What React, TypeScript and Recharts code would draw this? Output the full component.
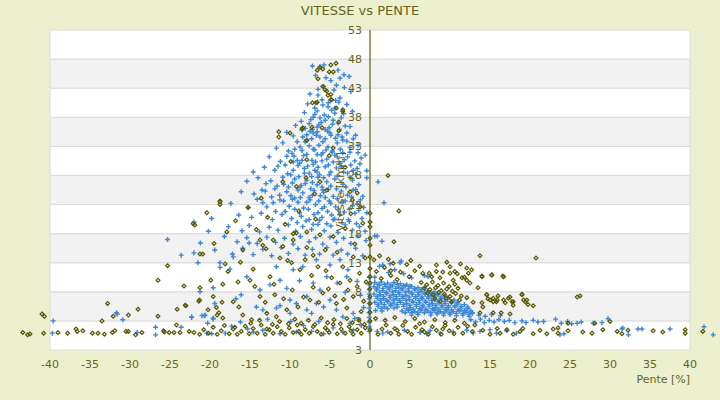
import {
  ReferenceArea,
  ReferenceDot,
  ReferenceLine,
  Scatter,
  ScatterChart,
  XAxis,
  YAxis,
} from "recharts";

// ── Axis ticks ───────────────────────────────────────────────────────────────
const xTicks = [-40, -35, -30, -25, -20, -15, -10, -5, 0, 5, 10, 15, 20, 25, 30, 35, 40];
const yTicks = [-2, 3, 8, 13, 18, 23, 28, 33, 38, 43, 48, 53];
const yTickLabels = ["3", "3", "8", "13", "18", "23", "28", "33", "38", "43", "48", "53"];

// ── Blue series (crosses) ────────────────────────────────────────────────────
const bluePeak: [number, number][] = [
  [-7.2, 46.8], [-5.75, 47], [-6.25, 46.7], [-4, 46.1],
  [-4.9, 44.3], [-3.25, 45.3], [-2.6, 45], [-3.75, 44.7], [-6.8, 45.2], [-5.5, 44.8],
  [-4.2, 43.5], [-4.5, 42.7], [-7.5, 42], [-6.5, 42.8], [-5.8, 43.3], [-3.2, 43.1], [-2.4, 42.4],
  [-3.75, 41.3], [-6.5, 41.8], [-6, 41], [-5.2, 40.5], [-7.8, 40.3], [-4.3, 40.9], [-2.9, 40.2],
  [-5.25, 39.8], [-4.4, 39.6], [-7.1, 38], [-6.6, 39.1], [-3.3, 38.6], [-8.2, 38.8], [-5.7, 38.4], [-2.2, 39],
  [-6.25, 37.9], [-5.6, 37.5], [-4.6, 37.5], [-4, 37], [-6.6, 36.3], [-7.6, 36.9], [-8.6, 37.3], [-3.1, 36.5], [-5.1, 36.2], [-9.3, 36.6],
  [-8.5, 35.8], [-6.6, 35.5], [-5, 35.3], [-3.5, 34.6], [-7.9, 35], [-7.5, 35.6], [-7.1, 35.3], [-6.25, 34.6], [-2.9, 35.3], [-4.3, 34.4], [-9.6, 34.8], [-10.4, 35.4], [-5.6, 35.9], [-1.8, 34.9],
  [-7.9, 34.1], [-5.9, 33.8], [-4.1, 33.6], [-11.7, 32.7], [-10.9, 33.6], [-9.4, 32.5], [-8.75, 32.9], [-8.1, 33.8], [-5.25, 32.9], [-3.4, 34.1], [-6.9, 32.4], [-2.5, 32.8], [-4.7, 32.2], [-1.5, 33.2], [-6.4, 33.2], [-3.7, 32.5], [-7.6, 33.1], [-10.2, 32.2],
  [-2.5, 32], [-1.1, 31], [-4.75, 32], [-4.1, 31.2], [-9.75, 31.8], [-9.1, 30.6], [-7.25, 30.6], [-12.6, 31.2], [-11.2, 30.4], [-8.3, 31.4], [-6.1, 31.5], [-5.4, 30.8], [-3.2, 30.7], [-6.8, 30.3], [-10.4, 31.3], [-1.9, 30.5], [-8.8, 30.1], [-5.9, 31.9], [-0.6, 31.5],
  [-1.25, 30], [-2.1, 28.9], [-3.75, 30.1], [-11.9, 28.9], [-11.5, 29.6], [-9.6, 28.9], [-6.9, 28.9], [-13.2, 29.4], [-8.2, 29.2], [-7.6, 28.4], [-5.6, 29.5], [-4.9, 28.6], [-4.2, 29.3], [-2.8, 28.4], [-10.3, 28.3], [-6.3, 28.1], [-9, 29.7], [-14.6, 28.6], [-0.4, 28.8],
  [-14, 27.6], [-0.4, 27.6], [-6.5, 27.7], [-7.9, 27.2], [-12.4, 27.1], [-10.8, 26.5], [-9.4, 27.4], [-8.6, 26.3], [-5.4, 26.9], [-4.4, 27.4], [-3.4, 26.5], [-2.2, 27.2], [-1.4, 26.4], [-6, 26], [-8.75, 26], [-11.6, 26.2], [-13, 26.6], [-7.2, 26.8], [-15.4, 27],
  [-16.1, 25.2], [-13.5, 25.5], [-13.1, 25.3], [-8.4, 25], [-10.4, 25.2], [-9.4, 24.1], [-11.3, 24.6], [-7, 25.4], [-6.2, 24.5], [-5.2, 25.6], [-4.6, 24.4], [-3.6, 25.3], [-2.8, 24.6], [-1.8, 25.6], [-0.9, 24.4], [-12.3, 24.3], [-14.5, 24.8], [-7.6, 24.2], [-5.8, 25.1],
  [-7.5, 23.8], [-11.25, 23.8], [-12.1, 23.3], [-12.9, 22.6], [-13.4, 23.3], [-10.1, 22.7], [-9, 23.4], [-8.3, 22.4], [-6.8, 23], [-6, 22.3], [-5.1, 23.6], [-4.3, 22.6], [-3.5, 23.4], [-2.6, 22.2], [-1.6, 23.1], [-0.8, 22.5], [-15.2, 22.5], [-17.4, 23.2], [-14.1, 23.9], [-9.7, 23.9],
  [-22, 20], [-19.8, 20.6], [-16.4, 21.2], [-14.8, 20.8], [-13.6, 21.5], [-12.2, 20.4], [-11, 21.3], [-9.8, 20.6], [-8.8, 21.6], [-7.6, 20.4], [-7, 21.3], [-6, 20.8], [-5.3, 21.8], [-4.4, 20.5], [-3.8, 21.3], [-2.7, 20.4], [-1.9, 21.5], [-1, 20.6], [-0.4, 21.6], [-11.8, 21.8],
  [-20.2, 18.4], [-17.7, 19.2], [-16, 18.5], [-15.1, 19.4], [-13.8, 18.3], [-12.6, 19.1], [-11.5, 18.6], [-10.2, 19.5], [-9.3, 18.4], [-8.4, 19.2], [-7.3, 18.7], [-6.5, 19.6], [-5.7, 18.5], [-4.9, 19.3], [-4, 18.2], [-3.1, 19.5], [-2.2, 18.6], [-1.3, 19.2], [-0.6, 18.4],
  [-25.3, 17], [-21.2, 16.4], [-18.2, 17.5], [-16.6, 16.6], [-15.4, 17.3], [-14.1, 16.3], [-12.9, 17.4], [-11.8, 16.5], [-10.7, 17.2], [-9.6, 16.2], [-8.7, 17.5], [-7.6, 16.6], [-6.8, 17.3], [-5.9, 16.2], [-5, 17.4], [-4.2, 16.5], [-3.3, 17.2], [-2.4, 16.3], [-1.5, 17.6], [-0.5, 16.8],
  [-23.6, 14.3], [-19.4, 15.2], [-17.2, 14.5], [-15.9, 15.5], [-14.6, 14.4], [-13.4, 15.3], [-12.3, 14.2], [-11.1, 15.6], [-10.2, 14.6], [-9, 15.4], [-8.1, 14.3], [-7.2, 15.3], [-6.3, 14.5], [-5.4, 15.6], [-4.6, 14.3], [-3.6, 15.2], [-2.8, 14.5], [-1.8, 15.5], [-0.9, 14.2],
];

// denser core of the peak, where the crosses overlap most
const blueCore: [number, number][] = [
  [-6.9, 39.6], [-5.9, 40.1], [-4.8, 39.2], [-3.9, 40.6],
  [-7.4, 37.6], [-6.9, 38.5], [-5.2, 38.1], [-4.4, 38.7], [-3.6, 37.9], [-6.1, 37.1],
  [-8.1, 36.1], [-7.2, 35.9], [-6.4, 36.7], [-5.3, 35.6], [-4.7, 36.8], [-3.8, 35.9], [-2.5, 36.4],
  [-9.1, 33.8], [-8.4, 34.6], [-7.3, 34.3], [-6.7, 34.9], [-5.6, 34.3], [-4.9, 34.9], [-4.0, 35], [-2.9, 33.9], [-2.1, 34.3],
  [-9.5, 31.3], [-8.5, 32.3], [-7.9, 31.6], [-7.1, 32.5], [-6.6, 31.6], [-5.5, 32.4], [-4.4, 31.5], [-3.4, 31.9], [-2.8, 31.2], [-1.5, 31.9],
  [-10.6, 29.8], [-9.6, 30.3], [-8.5, 30.6], [-7.8, 29.6], [-7.1, 29.9], [-6.5, 29.4], [-6, 30.5], [-5.2, 29.8], [-4.6, 30.3], [-3.6, 29.5], [-2.4, 29.8], [-1.6, 29.2],
  [-10.9, 27.7], [-9.9, 28.1], [-8.9, 27.8], [-8.2, 28.4], [-7.3, 27.8], [-6.6, 28.6], [-5.8, 27.6], [-5.1, 28.1], [-4.1, 27.9], [-3.3, 28.6], [-2.5, 27.7], [-1.8, 28.2],
  [-11.9, 25.7], [-10.2, 26], [-9.7, 26.7], [-9.0, 25.5], [-8.1, 26.6], [-7.4, 25.7], [-6.6, 26.4], [-5.9, 25.5], [-4.9, 26.2], [-4.2, 25.7], [-3, 26], [-2.1, 25.5],
  [-10.8, 23.6], [-9.9, 24.5], [-8.7, 24.2], [-7.9, 23.4], [-7.2, 24.6], [-6.4, 23.6], [-5.6, 24.2], [-4.9, 23.2], [-4.1, 24], [-3.1, 23.6], [-2.3, 24.3], [-1.2, 23.8],
  [-10.6, 21.8], [-9.4, 22.2], [-8.6, 21], [-7.7, 22.2], [-6.5, 21.6], [-5.7, 22.6], [-4.8, 21.2], [-4, 22.1], [-3.2, 21.7], [-2.2, 22.8], [-1.4, 22],
  [-9.1, 19.9], [-8, 20.2], [-7.1, 19.6], [-6.3, 20.3], [-5.4, 19.7], [-4.6, 20.4], [-3.5, 19.9], [-2.6, 20.1], [-1.7, 19.7],
];

const blueLowLeft: [number, number][] = [
  [-22, 14.7], [-21.5, 13], [-18.75, 13], [-18.75, 12.2], [-17.1, 14], [-15.1, 16.4], [-17.5, 11.9],
  [-21.25, 8], [-19.6, 8.7], [-16.1, 7.5], [-16.75, 6.8], [-22.3, 3.7], [-20.6, 4], [-19.6, 3.5], [-17.3, 2.1],
  [-14.2, 5.4], [-13.4, 4.9], [-11.7, 5.2], [-11.25, 5.6], [-10, 6.6], [-9.2, 6], [-10, 4.3], [-7.9, 4.9], [-7.3, 4.3],
  [-6.7, 6], [-5.8, 5.4], [-5, 6.6], [-4.2, 4.9], [-3.4, 3.7], [-2.5, 2.6], [-2.1, 4.3], [-7.1, 9.5], [-6.25, 8.3],
  [-7.9, 7.2], [-5.4, 10.6], [-4.1, 9.5], [-2.9, 10.6], [-11.25, 10], [-12.5, 9.2], [-10.4, 8.6], [-13.75, 8.3],
  [-15.4, 10.6], [-11.7, 12.3], [-9.6, 11.8], [-8.4, 12.3], [-6.7, 13.5], [-5, 12.6], [-3.75, 13.5], [-2.75, 11.8],
  [-1.6, 9.8], [-1.2, 7.4], [-0.8, 5.3], [-1.9, 3.4], [-3.1, 7.9], [-8.8, 9.9], [-9.9, 2.9], [-12.8, 3.3],
  [-9.2, 1.1], [-7.3, 1.2], [-5.8, 0.8], [-4.6, 1.8], [-3.4, 1.1], [-2.1, 1.4], [-11.25, 0.8], [-13.4, 1.4], [-14.6, 1.1],
  [-39.6, 3], [-39.7, 0.9], [-31.7, 4.4], [-31.6, 4.2], [-30.9, 3.2], [-29.1, 1], [-26.8, 1.9], [-26.8, 0.6],
  [-23.6, 1.9], [-22.3, 3.6], [-21, 3.9], [-20.7, 3.9], [-20.3, 2.6], [-19.6, 3.3], [-19.4, 6], [-20.4, 0.9],
  [-19.8, 0.8], [-18.1, 0.9], [-16.2, 2.8], [-15.3, 1.6], [-8.3, 2.2], [-6.4, 2.9], [-1.1, 2.2],
];

const blueAxis: [number, number][] = [
  [-0.1, 1.2], [-0.1, 2], [-0.1, 2.8], [-0.1, 3.6], [-0.1, 4.4], [-0.1, 5.2],
  [-0.1, 6], [-0.1, 6.8], [-0.1, 7.6], [-0.1, 8.4], [-0.1, 9.2], [-0.1, 10.5],
];

const blueRightBlob: [number, number][] = [
  [0.6, 9.6], [1.4, 9.7], [2.2, 9.5], [3.0, 9.6], [3.8, 9.4], [4.6, 9.2],
  [0.5, 8.9], [1.2, 9.1], [2.0, 8.9], [2.8, 9.0], [3.6, 8.8], [4.4, 9.0], [5.2, 8.9], [6.0, 8.7], [6.8, 8.8],
  [0.8, 8.3], [1.6, 8.2], [2.4, 8.4], [3.2, 8.2], [4.0, 8.3], [4.8, 8.1], [5.6, 8.3], [6.4, 8.1], [7.2, 8.2], [8.0, 8.0],
  [0.5, 7.6], [1.3, 7.5], [2.1, 7.7], [2.9, 7.5], [3.7, 7.6], [4.5, 7.4], [5.3, 7.6], [6.1, 7.5], [6.9, 7.6], [7.7, 7.4], [8.5, 7.5], [9.3, 7.3],
  [0.9, 6.9], [1.7, 6.8], [2.5, 7.0], [3.3, 6.8], [4.1, 6.9], [4.9, 6.7], [5.7, 6.9], [6.5, 6.8], [7.3, 6.9], [8.1, 6.7], [8.9, 6.8], [9.7, 6.7], [10.5, 6.6],
  [0.6, 6.2], [1.4, 6.1], [2.2, 6.3], [3.0, 6.1], [3.8, 6.2], [4.6, 6.0], [5.4, 6.2], [6.2, 6.1], [7.0, 6.2], [7.8, 6.0], [8.6, 6.1], [9.4, 6.0], [10.2, 6.1], [11.0, 5.9], [11.8, 5.8],
  [1.0, 5.5], [1.8, 5.4], [2.6, 5.6], [3.4, 5.4], [4.2, 5.5], [5.0, 5.3], [5.8, 5.5], [6.6, 5.4], [7.4, 5.5], [8.2, 5.3], [9.0, 5.4], [9.8, 5.3], [10.6, 5.4], [11.4, 5.2], [12.2, 5.1],
  [0.7, 4.8], [1.5, 4.7], [4.0, 4.7], [4.8, 4.8], [5.6, 4.6], [6.4, 4.8], [7.2, 4.7], [8.0, 4.8], [8.8, 4.6], [9.6, 4.7], [10.4, 4.6], [11.2, 4.7], [12.0, 4.5], [12.8, 4.4],
  [5.2, 4.0], [6.0, 4.1], [7.6, 4.0], [8.4, 4.2], [9.2, 4.0], [10.0, 4.1], [10.8, 3.9], [11.6, 4.0], [12.4, 3.8],
  // second, staggered layer that closes the gaps
  [1.0, 9.3], [1.8, 9.3], [2.6, 9.2], [3.4, 9.3], [4.2, 9.1], [5.0, 9.0],
  [0.9, 8.65], [1.6, 8.6], [2.4, 8.7], [3.2, 8.6], [4.0, 8.6], [4.8, 8.5], [5.6, 8.6], [6.4, 8.4],
  [1.2, 7.95], [2.0, 7.9], [2.8, 8.0], [3.6, 7.9], [4.4, 7.95], [5.2, 7.8], [6.0, 7.9], [6.8, 7.8], [7.6, 7.8], [8.4, 7.7],
  [0.9, 7.25], [1.7, 7.2], [2.5, 7.3], [3.3, 7.2], [4.1, 7.25], [4.9, 7.1], [5.7, 7.2], [6.5, 7.1], [7.3, 7.2], [8.1, 7.1], [8.9, 7.1], [9.7, 7.0],
  [1.3, 6.55], [2.1, 6.5], [2.9, 6.6], [3.7, 6.5], [4.5, 6.55], [5.3, 6.4], [6.1, 6.5], [6.9, 6.4], [7.7, 6.5], [8.5, 6.4], [9.3, 6.4], [10.1, 6.3], [10.9, 6.2],
  [1.0, 5.85], [1.8, 5.8], [2.6, 5.9], [3.4, 5.8], [4.2, 5.85], [5.0, 5.7], [5.8, 5.8], [6.6, 5.7], [7.4, 5.8], [8.2, 5.7], [9.0, 5.7], [9.8, 5.6], [10.6, 5.6], [11.4, 5.5], [12.2, 5.4],
  [1.4, 5.15], [2.2, 5.1], [3.0, 5.2], [4.6, 5.1], [5.4, 5.0], [6.2, 5.1], [7.0, 5.0], [7.8, 5.1], [8.6, 5.0], [9.4, 5.0], [10.2, 4.9], [11.0, 4.9], [11.8, 4.8], [12.6, 4.7],
  [4.4, 4.4], [5.2, 4.4], [6.0, 4.45], [6.8, 4.4], [7.6, 4.4], [8.4, 4.45], [9.2, 4.35], [10.0, 4.4], [10.8, 4.3], [11.6, 4.3], [12.4, 4.2],
];

const blueRightTail: [number, number][] = [
  [12.8, 4.3], [13.6, 4.0], [14.4, 3.8], [15.2, 4.1], [16.3, 3.9],
  [12.6, 3.2], [13.2, 2.8], [13.8, 3.3], [14.3, 2.7], [14.9, 3.1], [15.5, 2.8], [16.1, 3.2], [16.8, 2.9],
  [17.4, 3.1], [18.1, 2.7], [19, 3], [19.5, 2.7], [20.4, 3.1], [21, 2.8], [21.7, 2.9], [23.2, 3.3],
  [23.9, 2.6], [24.7, 2.9], [25.2, 2.5], [25.9, 2.6], [26.4, 2.8], [27.9, 2.6], [29, 2.7], [29.75, 3.4],
  [31.6, 1.8], [33.5, 1.6], [34, 1.6], [37.5, 1.6], [41.75, 2], [42.9, 0.6],
  [0.9, 1.2], [1.6, 0.9], [2.2, 1.1], [4.3, 1.4], [6.25, 1.0], [7.1, 0.8], [7.5, 1.3], [8.75, 0.9],
  [10.4, 1.1], [12.1, 1.4], [12.9, 0.9], [13.75, 1.2], [15, 1.5], [15.8, 0.9], [17.1, 1.3], [18.3, 0.9],
  [23.75, 0.6], [24.25, 0.8], [31.5, 1.6], [32.3, 0.6],
];

const blueRightScatter: [number, number][] = [
  [1, 26.9], [1.75, 23.3], [0.9, 17.6], [1.5, 16.7], [0.6, 17.6],
  [1.6, 12.6], [2.5, 12.8], [3.75, 13], [3.9, 13.3], [3.1, 11.8], [7.25, 10.6], [2.3, 11.3], [4.2, 11.1],
  [5.2, 10.4], [6.8, 10.8], [1.2, 12.4], [0.6, 10.5],
];

// ── Olive series (diamonds) ──────────────────────────────────────────────────
const olivePeak: [number, number][] = [
  [-6.6, 46.1], [-6.25, 46.6], [-5.9, 46.3], [-4.9, 47], [-4.25, 47.3], [-5.1, 45.8], [-4.6, 45.8],
  [-6.5, 44.6], [-5.6, 42.7], [-5.25, 41.8], [-4.9, 41.9], [-6.6, 40.6], [-4.9, 41], [-3.4, 39.3],
  [-3.9, 37.2], [-8.4, 36.2], [-7.25, 36.3], [-6, 36.2], [-4.6, 32.7], [-2.5, 25.2], [-1.6, 25],
  [-11.4, 35.5], [-11.4, 34.6], [-10, 35.3], [-18.75, 23.6], [-15.25, 22.5], [-8.5, 36], [-7.9, 34],
  [-6.75, 40.5], [-7.2, 40.5], [-5.9, 43.3], [-5.4, 42.5], [-4.8, 41], [-4.2, 39.6], [-3.4, 39],
  [-3.9, 35.7], [-7.9, 30.7], [-8, 27.6], [-9.2, 26.1], [-6.25, 26.9], [-5.4, 25.5], [-10.9, 26.9],
  [-3.1, 29.4], [-5.1, 31.4], [-9.9, 30.4], [-2.2, 23.8], [-13.6, 24.1], [-6.9, 24.8],
];

const oliveLeft: [number, number][] = [
  [-41, 4.2], [-40.7, 3.8], [-33.5, 3], [-32.8, 6], [-32.1, 3.8], [-30.2, 4], [-29, 5], [-26.5, 3.8],
  [-24.2, 2.3], [-24.1, 5], [-23, 5.6], [-21.3, 6.6], [-19.1, 4], [-18.9, 4.4], [-19.2, 5.3], [-18.5, 6.2],
  [-26.5, 10], [-25.3, 12.5], [-18.75, 23], [-21.9, 19.5],
  [-22.1, 19.7], [-17.9, 18.3], [-18.75, 23.5], [-19.5, 16.3], [-20.9, 14.5], [-19.9, 10], [-23.25, 9],
  [-21.25, 8.7], [-23.1, 5.7], [-21.4, 6.4], [-19.6, 7.2], [-18.4, 9.3], [-17.75, 11.5], [-16.5, 9.7],
  [-16.4, 5.4], [-17.1, 6.3], [-14.4, 8.9], [-15, 10], [-13.75, 7.2], [-12.5, 10.6], [-13.4, 16], [-13, 15.4],
  [-12.1, 16.9], [-10.9, 15.8], [-9.6, 16.9], [-9.8, 13], [-11.25, 13.8], [-8.75, 11.8], [-8.1, 13.5],
  [-7.1, 14.3], [-6.5, 12.3], [-5.6, 15.2], [-4.8, 10.4], [-3.75, 9.5], [-2.75, 8.3], [-5.9, 7.8], [-7.5, 6.6],
  [-9, 5.4], [-10.4, 4.9], [-11.7, 3.7], [-12.9, 4.3], [-14.8, 3.2], [-15.9, 4], [-18.4, 3.5], [-20.25, 4.9],
  [-4.2, 6], [-2.9, 5.2], [-2.1, 7.2], [-2.5, 10], [-3.4, 12.3], [-2.1, 14], [-4.6, 17.5], [-6.25, 17.8],
  [-7.9, 18.3], [-9.2, 18.1], [-9.6, 18], [-13.75, 16.9], [-15.9, 15.2], [-21.25, 14.5],
  [-14.9, 2.6], [-13.8, 3.1], [-12.2, 2.4], [-11.3, 2.9], [-10.2, 2.5], [-9.4, 3.3], [-8.6, 2.6], [-7.7, 3.1],
  [-6.9, 2.4], [-6.1, 3.5], [-5.3, 2.7], [-4.5, 3.2], [-3.7, 2.5], [-2.9, 3.4], [-2.2, 2.7], [-1.4, 3.1],
  [-0.7, 2.4], [-13.1, 6.2], [-11.9, 7.5], [-10.8, 6.8], [-9.7, 8.3], [-8.3, 7.1], [-7.1, 8.8], [-6.4, 6.2],
  [-5.2, 8.5], [-4.4, 7.3], [-3.3, 6.7], [-1.6, 8.9], [-0.8, 6.4], [-1.3, 11.2], [-0.6, 13.8], [-1.9, 16.2],
  [-3.1, 18.9], [-0.9, 19.8], [-2.4, 21.4], [-1.2, 22.6], [-6.8, 20.5], [-8.9, 21.9], [-10.6, 19.6],
  [-12.8, 20.8], [-14.2, 18.7], [-16.8, 20.2], [-20.4, 21.6], [-18.1, 12.8], [-16.2, 13.1], [-14.6, 11.9],
  [-12, 9.3], [-7.3, 10.8], [-5.5, 11.6], [-4.1, 14.8], [-7.9, 15.6], [-10.3, 13.4], [-1.1, 4.6], [-0.5, 9.7],
];

const oliveBottomLeft: [number, number][] = [
  [-43.4, 1], [-42.8, 0.6], [-42.5, 0.75], [-40.8, 0.9], [-39, 1], [-37.8, 0.9], [-36.75, 1.6], [-36.6, 1.2],
  [-35.9, 1.3], [-34.7, 0.9], [-34, 0.9], [-33.2, 0.7], [-32.2, 1], [-31.9, 1.3], [-30.5, 1.2], [-30.2, 1.2],
  [-29.3, 0.6], [-28.5, 1], [-25.8, 1.3], [-25.7, 1.1], [-25.1, 1], [-24.5, 1], [-23.75, 1], [-22.6, 1.2],
  [-22, 1], [-21.3, 0.7], [-20.8, 1.5], [-20.2, 0.9], [-19.6, 1.9], [-19.1, 0.7], [-18.6, 1.3], [-18.2, 2.2],
  [-17.6, 0.8], [-17.1, 1.6], [-16.6, 0.7], [-16.1, 1.2], [-15.6, 2.1], [-15.1, 0.8], [-14.6, 1.7], [-14.1, 0.9],
  [-13.6, 2.3], [-13.1, 0.7], [-12.6, 1.5], [-12.1, 0.9], [-11.6, 2], [-11.1, 1.2], [-10.6, 0.7], [-10.1, 1.8],
  [-9.6, 1], [-9.1, 2.3], [-8.6, 0.7], [-8.1, 1.5], [-7.6, 0.9], [-7.1, 2], [-6.6, 1.2], [-6.1, 0.7],
  [-5.6, 1.8], [-5.1, 1], [-4.6, 2.4], [-4.1, 0.8], [-3.6, 1.6], [-3.1, 0.9], [-2.6, 2], [-2.1, 0.7],
  [-1.6, 1.5], [-1.1, 0.9], [-0.6, 1.8], [-12.9, 1.6], [-8.9, 1.2], [-5.3, 1.4], [-2.4, 1.3], [-16.9, 1.9],
];

const oliveAxis: [number, number][] = [
  [0, 1.5], [0, 3], [0, 4.5], [0, 6], [0, 7.2], [0, 8.5], [0, 9.5], [0, 10.6],
  [0, 12], [0, 14], [0, 16], [0, 17.2], [0, 19.2], [0, 20], [0, 21.5],
];

const oliveRight: [number, number][] = [
  [2.25, 28], [3.6, 21.9], [3, 16.6], [13.75, 14.2], [20.75, 13.8],
  [0.5, 13.5], [1.2, 14.2], [2.3, 13.6], [0.8, 11.5], [1.8, 12.2], [2.9, 12.9], [3.8, 11.4], [4.6, 12.7],
  [5.6, 11.6], [6.2, 12.4], [7.4, 11.2], [8.3, 12.6], [9.1, 11.4], [10, 12.3], [10.9, 11.1], [11.8, 10.5],
  [12.7, 11.8], [8.3, 11.5], [10, 11.2], [10.6, 11.5], [12.1, 12.1], [12.3, 11.2], [6.6, 11.2], [7.7, 10.6],
  [8.75, 10.4], [10.4, 10], [11.5, 10.4], [13.5, 8.7], [14.6, 7.5], [14.75, 6.8], [15.4, 6.9], [15.8, 6.3],
  [16.7, 6.6], [17.3, 6.9], [17.9, 6.3], [19, 7.5], [19.2, 6.6], [19.6, 6.6], [19.75, 5.8], [16.7, 10.6],
  [15.2, 10.9], [14, 10.6], [12.5, 9.5], [12.1, 10], [14, 10.7], [15.25, 10.9], [16.6, 10.7], [19, 7.6],
  [19.4, 6.3], [20.4, 5.6], [14.6, 7.5], [15, 6.6], [15.9, 6.6], [16, 7.3], [17.5, 7.1], [17.75, 6.3],
  [17.9, 5.7], [16.9, 6.1], [14, 6.1], [14.1, 5.4], [15.4, 6.3], [25.9, 7.1], [26.25, 7.3], [13.75, 4.4],
  [15.4, 4.4], [16.4, 4.4], [17.5, 4.2], [28.1, 2.6], [30, 2.9], [24.75, 2.6], [23.5, 1.8],
  [6.4, 9.6], [7.1, 9.2], [7.8, 9.7], [8.5, 9.1], [9.2, 9.5], [9.9, 8.9], [10.6, 9.3], [6.8, 8.6],
  [7.5, 8.4], [8.2, 8.7], [8.9, 8.2], [9.6, 8.5], [10.3, 8.1], [11, 8.6], [7.2, 7.8], [7.9, 7.5],
  [8.6, 7.9], [9.3, 7.6], [10, 7.2], [10.7, 7.7], [11.4, 7.3], [8.1, 6.8], [8.8, 6.4], [9.5, 6.9],
  [10.2, 6.3], [11.2, 6.6], [12.1, 7], [12.9, 6.2], [1.4, 10.3], [2.6, 10.8], [3.4, 10.1], [4.9, 10.6],
  [0.7, 3.4], [1.9, 3.1], [3.1, 3.6], [4.4, 2.9], [5.6, 3.4], [6.8, 2.8], [8.1, 3.2], [9.4, 2.7],
  [10.6, 3.1], [11.8, 2.6], [13.1, 2.3], [2.6, 11.6], [5.1, 13.4], [9.6, 13.1], [11.3, 12.8],
];

const oliveBottomRight: [number, number][] = [
  [1, 0.7], [1.5, 1.6], [2, 2.3], [2.6, 0.9], [3.1, 1.7], [3.6, 0.7], [4.1, 2.2], [4.7, 1.2],
  [5.2, 0.7], [5.7, 1.9], [6.2, 2.5], [6.8, 1.1], [7.3, 0.7], [7.8, 2], [8.3, 1.4], [8.9, 0.7],
  [9.4, 2.2], [9.9, 1.3], [10.5, 0.8], [11, 1.9], [11.6, 0.9], [12.2, 2.1], [12.8, 1.2], [3.4, 1.4],
  [6.5, 1.5], [9.1, 1.6], [14.1, 1.4], [15, 0.7], [15.9, 1.7], [16.25, 0.9], [17.1, 1.5], [17.9, 0.7],
  [18.75, 1.2], [19.1, 1.7], [20.4, 0.8], [21.25, 1.4], [22.1, 0.8], [22.9, 1.6], [23.5, 0.9], [24.75, 1.3],
  [26.6, 1.1], [27.75, 0.9], [29.1, 1.5], [30.9, 1.2], [31.5, 0.8], [32.25, 1.4], [35.4, 1.3], [36.6, 1.1],
  [39.4, 0.9], [39.4, 1.5], [41.6, 1.2],
];

// ── Styling ──────────────────────────────────────────────────────────────────
const PAGE_BG = "#ecf0cf";
const TEXT = "#646420";
const AXIS = "#626200";
const BLUE = "#3b87d7";
const OLIVE = "#575700";
const BAND = "#f2f2f2";
const GRID = "#dcdcdc";
const FONT = "'DejaVu Sans', Verdana, sans-serif";

const toPts = (arr: [number, number][]) => arr.map(([x, y]) => ({ x, y }));

const bluePts = toPts([
  ...bluePeak,
  ...blueCore,
  ...blueLowLeft,
  ...blueAxis,
  ...blueRightBlob,
  ...blueRightTail,
  ...blueRightScatter,
]);
const olivePts = toPts([
  ...olivePeak,
  ...oliveLeft,
  ...oliveBottomLeft,
  ...oliveAxis,
  ...oliveRight,
  ...oliveBottomRight,
]);

// y tick labels sit on the x = 0 axis, drawn last so they stay readable
const yTickPts = yTicks.map((y, i) => ({ x: 0, y, label: yTickLabels[i] }));

const PlusMark = (p: any) => (
  <path
    d={`M${p.cx - 2.5},${p.cy}h5M${p.cx},${p.cy - 2.5}v5`}
    stroke={BLUE}
    strokeWidth={1.4}
    fill="none"
  />
);

const DiamondMark = (p: any) => (
  <path
    d={`M${p.cx},${p.cy - 1.9}l1.9,1.9l-1.9,1.9l-1.9,-1.9z`}
    stroke={OLIVE}
    strokeWidth={1.2}
    fill="none"
  />
);

const TickLabel = (p: any) => (
  <text
    x={p.cx - 8}
    y={p.cy}
    dy="0.36em"
    textAnchor="end"
    fill={TEXT}
    fontSize={11}
    fontFamily={FONT}
  >
    {p.payload?.label}
  </text>
);

export default function App() {
  // bands between consecutive y ticks, white / light grey from the top down
  const bands = yTicks.slice(0, -1).map((lo, i) => ({
    lo,
    hi: yTicks[i + 1],
    grey: (yTicks.length - 2 - i) % 2 === 1,
  }));

  return (
    <div
      style={{
        position: "absolute",
        left: 0,
        top: 0,
        width: 720,
        height: 400,
        background: PAGE_BG,
        fontFamily: FONT,
      }}
    >
      <div
        style={{
          position: "absolute",
          top: 2,
          left: 0,
          width: 720,
          textAlign: "center",
          fontSize: 13,
          lineHeight: "17px",
          color: TEXT,
        }}
      >
        VITESSE vs PENTE
      </div>
      <ScatterChart
        width={720}
        height={400}
        margin={{ top: 30, right: 0, bottom: 20, left: 20 }}
        style={{ position: "absolute", left: 0, top: 0 }}
      >
        <XAxis
          dataKey="x"
          type="number"
          domain={[-43.75, 43.75]}
          ticks={xTicks}
          axisLine={false}
          tickLine={false}
          tickMargin={4}
          height={30}
          tick={{ fontSize: 11, fill: TEXT, fontFamily: FONT }}
        />
        <YAxis dataKey="y" type="number" domain={[-2, 53]} hide />

        {bands.map((b) => (
          <ReferenceArea
            key={b.lo}
            x1={-40}
            x2={40}
            y1={b.lo}
            y2={b.hi}
            fill={b.grey ? BAND : "#ffffff"}
            fillOpacity={1}
            stroke={GRID}
            strokeWidth={1}
            ifOverflow="visible"
          />
        ))}

        <ReferenceLine x={0} stroke={AXIS} strokeWidth={1.2} ifOverflow="visible" />

        <ReferenceDot
          x={-3.75}
          y={25.2}
          r={0}
          fill="none"
          stroke="none"
          ifOverflow="visible"
          label={{
            value: "Vitesse [km/h]",
            position: "center",
            angle: -90,
            fill: TEXT,
            fontSize: 11,
            fontFamily: FONT,
          }}
        />

        <Scatter data={bluePts} shape={PlusMark} isAnimationActive={false} />
        <Scatter data={olivePts} shape={DiamondMark} isAnimationActive={false} />
        <Scatter data={yTickPts} shape={TickLabel} isAnimationActive={false} />

        <ReferenceDot
          x={40}
          y={-2}
          r={0}
          fill="none"
          stroke="none"
          ifOverflow="visible"
          label={{
            content: (props: any) => {
              const vb = props.viewBox || {};
              return (
                <text
                  x={vb.x}
                  y={(vb.y ?? 0) + 33}
                  textAnchor="end"
                  fill={TEXT}
                  fontSize={11}
                  fontFamily={FONT}
                >
                  Pente [%]
                </text>
              );
            },
          }}
        />
      </ScatterChart>
    </div>
  );
}
